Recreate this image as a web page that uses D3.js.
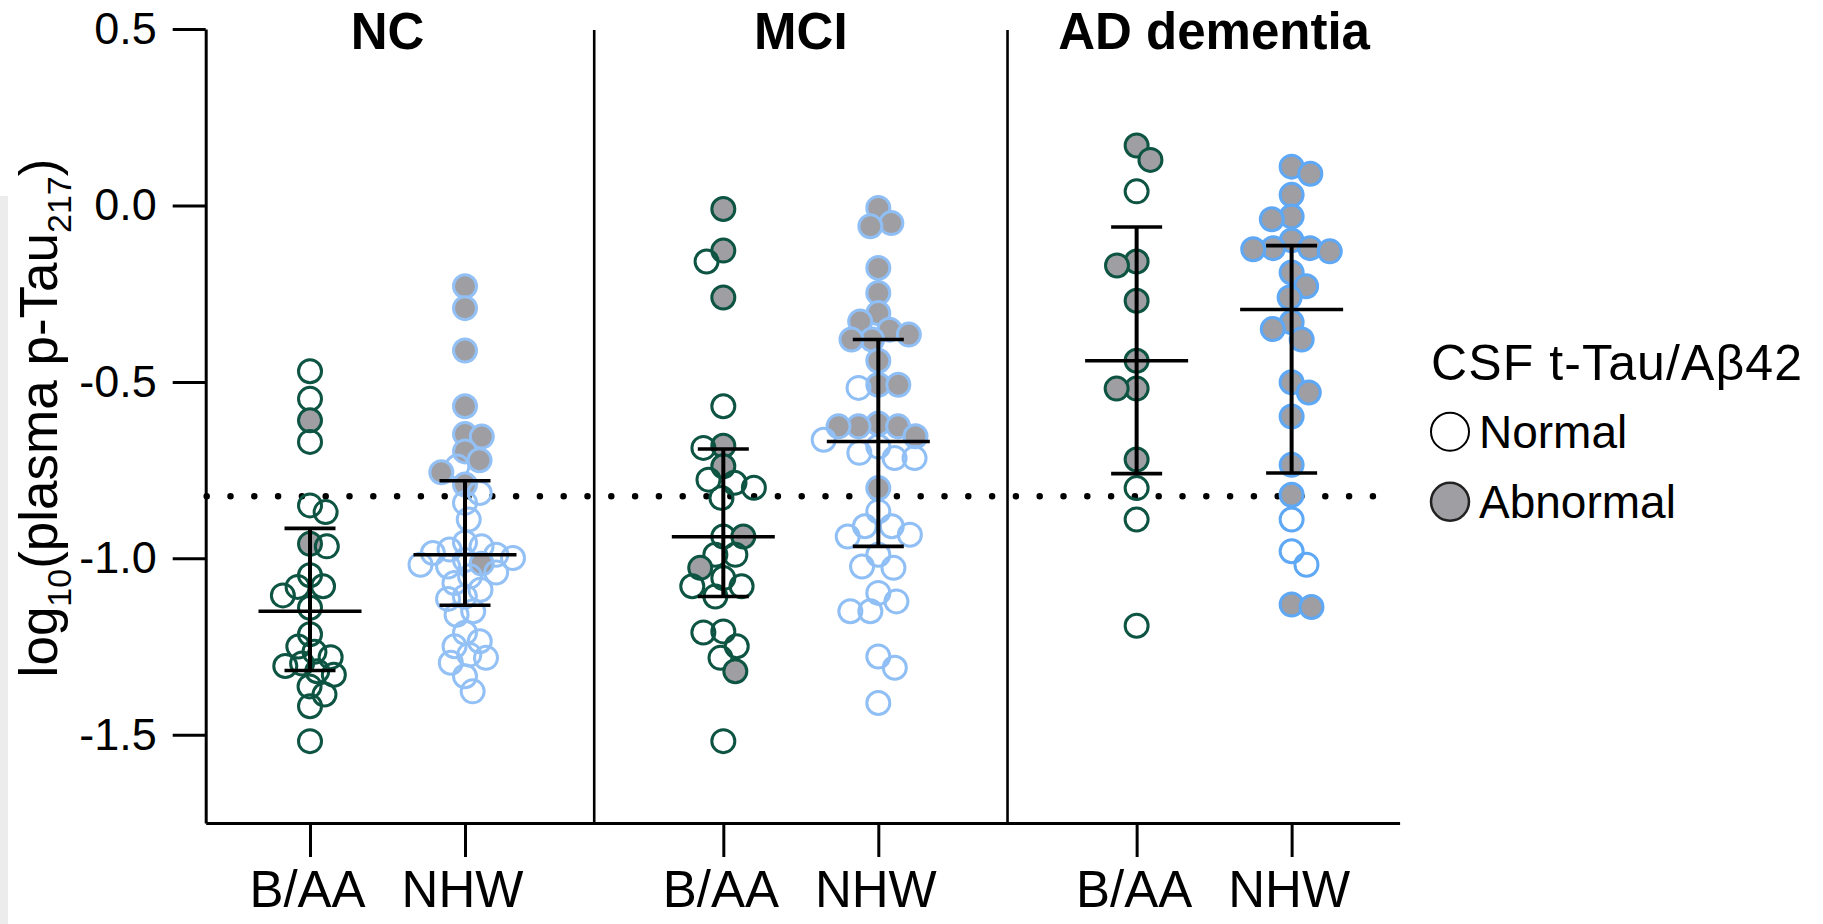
<!DOCTYPE html>
<html>
<head>
<meta charset="utf-8">
<script src="https://cdn.jsdelivr.net/npm/d3@7"></script>
<style>
  html, body { margin: 0; padding: 0; background: #ffffff; }
  svg { display: block; font-family: "Liberation Sans", Arial, Helvetica, sans-serif; }
</style>
</head>
<body>
<svg id="chart" width="1823" height="924"></svg>
<script>
// ---- data ---------------------------------------------------------------
const panels = ["NC", "MCI", "AD dementia"];
const races = ["B/AA", "NHW"];
const yTicks = [0.5, 0.0, -0.5, -1.0, -1.5];
const cutoff = -0.824;           // CSF t-Tau/Aβ42 positivity threshold (log10 plasma p-Tau217)

// log10(plasma p-Tau217) per participant, split by CSF status
const ncBaaNormal   = [-0.470, -0.548, -0.670, -0.850, -0.869, -0.966, -1.048, -1.079, -1.081, -1.105, -1.140, -1.215, -1.250, -1.265, -1.280, -1.298, -1.305, -1.320, -1.330, -1.363, -1.386, -1.419, -1.518];
const ncBaaAbnormal = [-0.609, -0.959];
const ncNhwNormal   = [-0.740, -0.815, -0.843, -0.890, -0.955, -0.966, -0.975, -0.985, -0.990, -0.999, -1.005, -1.018, -1.023, -1.040, -1.051, -1.070, -1.089, -1.108, -1.115, -1.150, -1.160, -1.211, -1.235, -1.249, -1.273, -1.282, -1.296, -1.334, -1.377];
const ncNhwAbnormal = [-0.229, -0.291, -0.411, -0.569, -0.648, -0.655, -0.697, -0.722, -0.756, -0.791, -1.015];

const mciBaaNormal   = [-0.159, -0.569, -0.687, -0.777, -0.786, -0.800, -0.829, -0.938, -0.990, -0.990, -1.056, -1.079, -1.079, -1.108, -1.207, -1.210, -1.249, -1.282, -1.518];
const mciBaaAbnormal = [-0.010, -0.128, -0.261, -0.681, -0.739, -0.938, -1.027, -1.320];
const mciNhwNormal   = [-0.517, -0.664, -0.683, -0.701, -0.716, -0.716, -0.867, -0.909, -0.909, -0.933, -0.938, -0.990, -1.023, -1.027, -1.098, -1.122, -1.150, -1.150, -1.278, -1.310, -1.410];
const mciNhwAbnormal = [-0.007, -0.050, -0.059, -0.177, -0.248, -0.305, -0.329, -0.352, -0.366, -0.380, -0.380, -0.440, -0.508, -0.508, -0.618, -0.626, -0.626, -0.626, -0.654, -0.801];

const adBaaNormal   = [0.040, -0.801, -0.890, -1.191];
const adBaaAbnormal = [0.170, 0.129, -0.159, -0.170, -0.270, -0.440, -0.519, -0.519, -0.720];
const adNhwNormal   = [-0.890, -0.980, -1.018];
const adNhwAbnormal = [0.110, 0.090, 0.030, -0.031, -0.039, -0.099, -0.121, -0.121, -0.124, -0.130, -0.190, -0.229, -0.261, -0.331, -0.350, -0.380, -0.501, -0.530, -0.598, -0.735, -0.820, -1.131, -1.138];

// group summaries in panel order (NC B/AA, NC NHW, MCI B/AA, MCI NHW, AD B/AA, AD NHW)
const centerVals = [-1.150, -0.990, -0.939, -0.669, -0.440, -0.295];
const upperVals  = [-0.915, -0.780, -0.690, -0.380, -0.061, -0.114];
const lowerVals  = [-1.318, -1.133, -1.108, -0.966, -0.760, -0.758];

const legendTitle = "CSF t-Tau/Aβ42";
const legendLabels = ["Normal", "Abnormal"];

// ---- setup --------------------------------------------------------------
const groupSets = [
  [ncBaaNormal, ncBaaAbnormal], [ncNhwNormal, ncNhwAbnormal],
  [mciBaaNormal, mciBaaAbnormal], [mciNhwNormal, mciNhwAbnormal],
  [adBaaNormal, adBaaAbnormal], [adNhwNormal, adNhwAbnormal]
];
const panelStep = 8 / 3;
const groups = [];
panels.forEach((p, pi) => races.forEach((r, ri) => {
  const gi = pi * 2 + ri;
  groups.push({
    panel: p, panelIndex: pi, race: r, pos: pi * panelStep + ri,
    normal: groupSets[gi][0], abnormal: groupSets[gi][1],
    center: centerVals[gi], upper: upperVals[gi], lower: lowerVals[gi]
  });
}));

const svg = d3.select("#chart");
const y = d3.scaleLinear().domain([-1.75, 0.5]).range([823, 29]);
const x = d3.scaleLinear().domain([-0.673, 7.03]).range([205.7, 1399.6]);

const baaColor = "#0e5443";
const nhwColor = ["#93c1f5", "#8fbff5", "#5ea8f5"];
const grayFill = "#9e9ea3";
const R = 11.5;
const SEP = [17, 20, 20];        // minimum centre spacing of the swarm, per panel

// faint strip along the left edge
svg.append("rect").attr("x", 0).attr("y", 196).attr("width", 8).attr("height", 728).attr("fill", "#ececec");

// threshold line
svg.append("line")
  .attr("x1", 206.7).attr("x2", 1373.5)
  .attr("y1", y(cutoff)).attr("y2", y(cutoff))
  .attr("stroke", "#000").attr("stroke-width", 6.5)
  .attr("stroke-linecap", "round")
  .attr("stroke-dasharray", "0 23.8");

// panel dividers
[panelStep - 0.833, 2 * panelStep - 0.833].forEach(u => {
  svg.append("line")
    .attr("x1", x(u)).attr("x2", x(u))
    .attr("y1", 30).attr("y2", y(-1.75))
    .attr("stroke", "#000").attr("stroke-width", 2.6);
});

// axes
const fmt = d3.format(".1f");
const yAxis = d3.axisLeft(y).tickValues(yTicks).tickSize(33).tickSizeOuter(0).tickPadding(16)
  .tickFormat(d => fmt(d).replace("\u2212", "-"));
const gy = svg.append("g").attr("transform", `translate(${x(-0.673)},0)`).call(yAxis);
gy.selectAll("path, line").attr("stroke", "#000").attr("stroke-width", 3);
gy.selectAll("text").attr("font-size", 45).attr("fill", "#000")
  .attr("font-family", '"Liberation Sans", Arial, sans-serif');

const xAxis = d3.axisBottom(x).tickValues(groups.map(g => g.pos)).tickSize(34).tickSizeOuter(0).tickPadding(14)
  .tickFormat((d, i) => groups[i].race);
const gx = svg.append("g").attr("transform", `translate(0,${y(-1.75)})`).call(xAxis);
gx.selectAll("path, line").attr("stroke", "#000").attr("stroke-width", 3);
gx.selectAll("text").attr("font-size", 51).attr("fill", "#000").attr("dx", -3)
  .attr("font-family", '"Liberation Sans", Arial, sans-serif');

// beeswarm offsets computed from the values
function swarm(items, sep) {
  const sorted = items.slice().sort((a, b) => d3.descending(a.v, b.v));
  const placed = [];
  sorted.forEach(it => {
    const py = y(it.v);
    const blocks = [];
    placed.forEach(q => {
      const dy = Math.abs(q.py - py);
      if (dy < sep) {
        const w = Math.sqrt(sep * sep - dy * dy);
        blocks.push([q.dx - w, q.dx + w]);
      }
    });
    const cands = [0];
    blocks.forEach(b => cands.push(b[0], b[1]));
    cands.sort((a, b) => Math.abs(a) - Math.abs(b) || (placed.length % 2 ? b - a : a - b));
    const dx = cands.find(c => blocks.every(b => c <= b[0] + 1e-6 || c >= b[1] - 1e-6));
    placed.push({ ...it, py, dx });
  });
  return placed;
}

// points
const gPts = svg.append("g");
groups.forEach(g => {
  const items = g.normal.map(v => ({ v, abn: false })).concat(g.abnormal.map(v => ({ v, abn: true })));
  const pts = swarm(items, SEP[g.panelIndex]);
  const stroke = g.race === "B/AA" ? baaColor : nhwColor[g.panelIndex];
  gPts.selectAll(null).data(pts).enter().append("circle")
    .attr("cx", d => x(g.pos) + d.dx)
    .attr("cy", d => d.py)
    .attr("r", R)
    .attr("fill", d => d.abn ? grayFill : "none")
    .attr("stroke", stroke)
    .attr("stroke-width", 3);
});

// summary bars
const gBars = svg.append("g").attr("stroke", "#000");
groups.forEach(g => {
  const cx = x(g.pos);
  gBars.append("line").attr("x1", cx).attr("x2", cx).attr("y1", y(g.upper)).attr("y2", y(g.lower)).attr("stroke-width", 4);
  [g.upper, g.lower].forEach(v => {
    gBars.append("line").attr("x1", cx - 25.5).attr("x2", cx + 25.5).attr("y1", y(v)).attr("y2", y(v)).attr("stroke-width", 3.6);
  });
  gBars.append("line").attr("x1", cx - 51.5).attr("x2", cx + 51.5).attr("y1", y(g.center)).attr("y2", y(g.center)).attr("stroke-width", 3.4);
});

// panel titles
panels.forEach((p, pi) => {
  svg.append("text")
    .attr("x", x(pi * panelStep + 0.5)).attr("y", 49)
    .attr("text-anchor", "middle")
    .attr("font-size", 51).attr("font-weight", "bold")
    .text(p);
});

// y axis title
const yt = svg.append("text")
  .attr("transform", "translate(57,418) rotate(-90)")
  .attr("text-anchor", "middle")
  .attr("font-size", 53);
yt.append("tspan").text("log");
yt.append("tspan").attr("font-size", 34).attr("dy", 14).text("10");
yt.append("tspan").attr("dy", -14).text("(plasma p-Tau");
yt.append("tspan").attr("font-size", 34).attr("dy", 14).text("217");
yt.append("tspan").attr("dy", -14).text(")");

// legend
const lg = svg.append("g");
lg.append("text").attr("x", 1431).attr("y", 380).attr("font-size", 50).attr("letter-spacing", 1.1).text(legendTitle);
legendLabels.forEach((lab, i) => {
  const cy = 431.7 + i * 70;
  lg.append("circle").attr("cx", 1450).attr("cy", cy).attr("r", 19)
    .attr("fill", i === 0 ? "#ffffff" : grayFill)
    .attr("stroke", i === 0 ? "#000" : "#222").attr("stroke-width", i === 0 ? 2 : 2.5);
  lg.append("text").attr("x", 1479).attr("y", cy + 16.5).attr("font-size", 46).text(lab);
});
</script>
</body>
</html>
